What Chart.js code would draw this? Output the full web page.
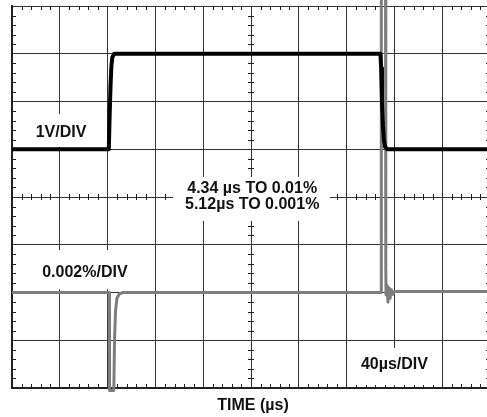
<!DOCTYPE html>
<html>
<head>
<meta charset="utf-8">
<script src="https://cdn.jsdelivr.net/npm/chart.js@4/dist/chart.umd.min.js"></script>
<style>
  html, body { margin: 0; padding: 0; background: #fff; overflow: hidden; }
</style>
</head>
<body>
<canvas id="canvas" width="491" height="417"></canvas>
<script>
// time in µs (40µs/DIV), level in divisions
var pulseTime  = [0, 81, 81.6, 82.4, 83.2, 84, 85.5, 308.3, 308.9, 309.6, 310.4, 311.2, 312.2, 314, 400];
var pulseLevel = [1, 1, 1.6, 2.3, 2.75, 2.93, 3, 3, 2.7, 2.0, 1.5, 1.2, 1.05, 1, 1];

var errorTime  = [0, 81.3, 81.5, 81.7, 85.2, 85.8, 86.6, 87.8, 89.8, 93, 308.8, 309, 309.1, 312.6, 312.8, 313, 313.8, 314.6, 315.5, 316.4, 317.4, 318.5, 320, 400];
var errorLevel = [-2, -2, -2.5, -4.05, -4.05, -3, -2.4, -2.12, -2.03, -2, -2, -1, 4.4, 4.4, -1.5, -2.05, -1.85, -2.2, -1.9, -2.12, -1.94, -2.04, -1.98, -1.98];

var labels = ['1V/DIV', '4.34 µs TO 0.01%', '5.12µs TO 0.001%', '0.002%/DIV', '40µs/DIV', 'TIME (µs)'];

function toPoints(xs, ys) {
    return xs.map((x, i) => ({x: x, y: ys[i]}));
}

const FONT = 'bold 16px "Liberation Sans", Arial, sans-serif';

// text notes with white boxes that cut the grid, placed in data units
var notes = [
    {text: [labels[0]], x: 41, y: 1.35, box: [6.7, 73.6, 1.74, 1.05]},
    {text: [labels[1], labels[2]], x: 201, y: 0, box: [134.7, 266, 0.42, -0.5]},
    {text: [labels[3]], x: 61, y: -1.59, box: [8.4, 103, -1.11, -1.93]},
    {text: [labels[4]], x: 320, y: -3.52, box: [284.5, 355.6, -3.16, -3.94]}
];

const scopePlugin = {
    id: 'scope',
    beforeDatasetsDraw(chart) {
        const ctx = chart.ctx;
        const xs = chart.scales.x, ys = chart.scales.y;
        const area = chart.chartArea;
        ctx.save();
        ctx.strokeStyle = '#222';
        ctx.lineWidth = 1;
        ctx.beginPath();
        // minor ticks on border and center lines, 5 per division
        for (var t = 0; t <= 400; t += 8) {
            if (t % 40 === 0) continue;
            var px = Math.round(xs.getPixelForValue(t)) + 0.5;
            ctx.moveTo(px, area.top); ctx.lineTo(px, area.top + 4);
            ctx.moveTo(px, area.bottom); ctx.lineTo(px, area.bottom - 4);
            var cy = ys.getPixelForValue(0);
            ctx.moveTo(px, cy - 3); ctx.lineTo(px, cy + 3);
        }
        for (var k = -20; k <= 20; k++) {
            if (k % 5 === 0) continue;
            var py = Math.round(ys.getPixelForValue(k / 5)) + 0.5;
            ctx.moveTo(area.left, py); ctx.lineTo(area.left + 4, py);
            ctx.moveTo(area.right, py); ctx.lineTo(area.right - 4, py);
            var cx = xs.getPixelForValue(200);
            ctx.moveTo(cx - 3, py); ctx.lineTo(cx + 3, py);
        }
        ctx.stroke();

        ctx.font = FONT;
        ctx.textAlign = 'center';
        ctx.textBaseline = 'middle';
        notes.forEach(n => {
            var x0 = xs.getPixelForValue(n.box[0]), x1 = xs.getPixelForValue(n.box[1]);
            var y0 = ys.getPixelForValue(n.box[2]), y1 = ys.getPixelForValue(n.box[3]);
            ctx.fillStyle = '#fff';
            ctx.fillRect(x0, y0, x1 - x0, y1 - y0);
            ctx.fillStyle = '#111';
            var cx = xs.getPixelForValue(n.x), cy = ys.getPixelForValue(n.y);
            var lh = 16;
            n.text.forEach((s, i) => {
                ctx.fillText(s, cx, cy + (i - (n.text.length - 1) / 2) * lh);
            });
        });
        // axis title
        ctx.fillStyle = '#111';
        ctx.fillText(labels[5], xs.getPixelForValue(201.7), ys.getPixelForValue(-4.36));
        ctx.restore();
    }
};

var ctx = document.getElementById('canvas').getContext('2d');
var scopeChart = new Chart(ctx, {
    type: 'line',
    data: {
        datasets: [{
            label: 'Output',
            data: toPoints(pulseTime, pulseLevel),
            borderColor: '#000',
            borderWidth: 4,
            pointRadius: 0,
            tension: 0,
            borderJoinStyle: 'round'
        }, {
            label: 'Settling error',
            data: toPoints(errorTime, errorLevel),
            borderColor: '#7d7d7d',
            borderWidth: 3,
            pointRadius: 0,
            tension: 0,
            clip: false,
            borderJoinStyle: 'round'
        }]
    },
    options: {
        responsive: false,
        animation: false,
        layout: { padding: { left: 12, top: 6, right: 1, bottom: 29 } },
        plugins: { legend: { display: false }, tooltip: { enabled: false } },
        scales: {
            x: {
                type: 'linear',
                min: 0,
                max: 400,
                ticks: { display: false, stepSize: 40 },
                grid: { color: '#333', lineWidth: 1, drawTicks: false },
                border: { color: '#222', width: 2 }
            },
            y: {
                min: -4,
                max: 4,
                ticks: { display: false, stepSize: 1 },
                grid: { color: '#333', lineWidth: 1, drawTicks: false },
                border: { color: '#222', width: 2 }
            }
        }
    },
    plugins: [scopePlugin]
});
</script>
</body>
</html>
